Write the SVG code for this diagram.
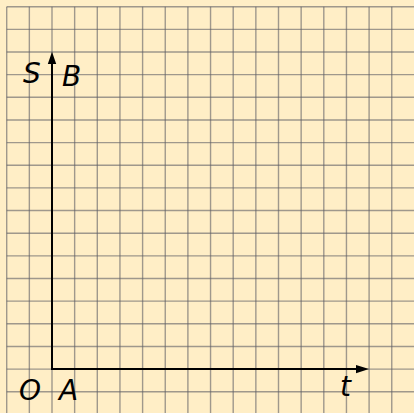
<svg xmlns="http://www.w3.org/2000/svg" width="414" height="413" viewBox="0 0 414 413">
  <style>
    .grid { stroke: #5f5f66; stroke-opacity: 0.6; stroke-width: 1.4; fill: none; }
    .axis { stroke: #000; stroke-width: 2; fill: none; }
    .head { fill: #000; stroke: none; }
    .lbl { font-family: "DejaVu Sans", "Liberation Sans", sans-serif; font-style: italic; font-size: 28px; fill: #000; }
  </style>
  <rect x="0" y="0" width="414" height="413" fill="#FFEEC6"/>
  <g id="grid">
    <path class="grid" d="M6.7 6.7V413 M29.35 6.7V413 M52 6.7V413 M74.65 6.7V413 M97.3 6.7V413 M119.95 6.7V413 M142.6 6.7V413 M165.25 6.7V413 M187.9 6.7V413 M210.55 6.7V413 M233.2 6.7V413 M255.85 6.7V413 M278.5 6.7V413 M301.15 6.7V413 M323.8 6.7V413 M346.45 6.7V413 M369.1 6.7V413 M391.75 6.7V413"/>
    <path class="grid" d="M6.7 6.7H414 M6.7 29.35H414 M6.7 52H414 M6.7 74.65H414 M6.7 97.3H414 M6.7 119.95H414 M6.7 142.6H414 M6.7 165.25H414 M6.7 187.9H414 M6.7 210.55H414 M6.7 233.2H414 M6.7 255.85H414 M6.7 278.5H414 M6.7 301.15H414 M6.7 323.8H414 M6.7 346.45H414 M6.7 369.1H414 M6.7 391.75H414"/>
  </g>
  <g id="connectors">
    <g id="axis-s">
      <line class="axis" x1="52" y1="369.1" x2="52" y2="60"/>
      <polygon class="head" points="52,51.7 47.8,64 56.2,64"/>
    </g>
    <g id="axis-t">
      <line class="axis" x1="51" y1="369.1" x2="360" y2="369.1"/>
      <polygon class="head" points="369,369.1 356,364.9 356,373.3"/>
    </g>
  </g>
  <g id="label-S"><text class="lbl" x="23" y="83">S</text></g>
  <g id="label-B"><text class="lbl" x="62" y="86">B</text></g>
  <g id="label-O"><text class="lbl" x="19" y="400">O</text></g>
  <g id="label-A"><text class="lbl" x="59" y="400">A</text></g>
  <g id="label-t"><text class="lbl" x="340" y="396">t</text></g>
</svg>
